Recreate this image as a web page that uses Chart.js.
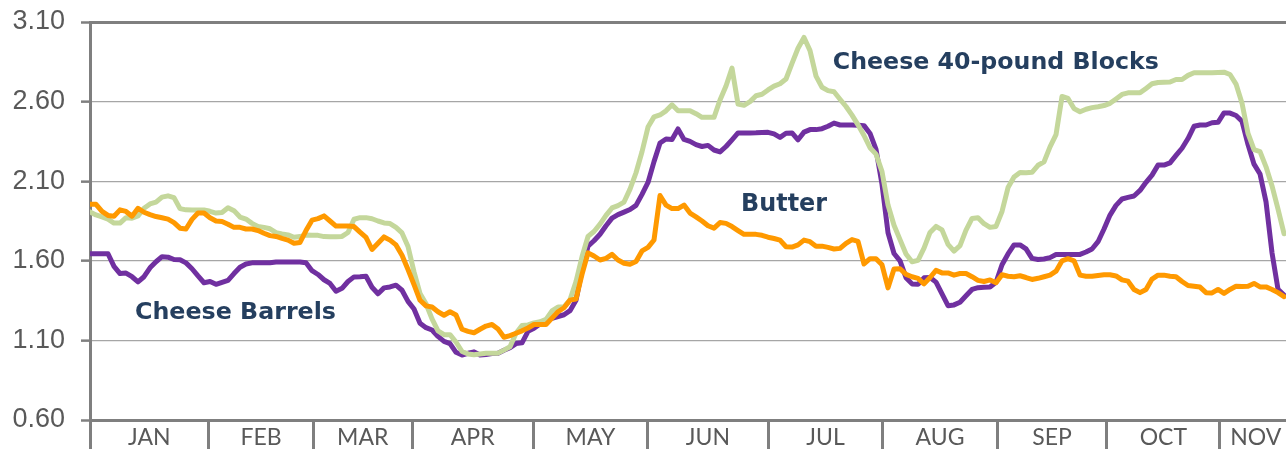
<!DOCTYPE html>
<html><head><meta charset="utf-8">
<script src="https://cdn.jsdelivr.net/npm/chart.js@4.4.1/dist/chart.umd.min.js"></script>
<style>html,body{margin:0;padding:0;background:#fff;overflow:hidden}</style>
</head><body>
<canvas id="c" width="1286" height="449"></canvas>
<script>
// ---- DATA (daily spot prices, $/lb) ----
const butter = [1.955,1.955,1.91,1.885,1.88,1.92,1.91,1.88,1.93,1.905,1.89,1.878,1.87,1.862,1.84,1.805,1.80,1.86,1.90,1.90,
1.87,1.85,1.847,1.83,1.81,1.81,1.80,1.80,1.79,1.773,1.758,1.753,1.741,1.73,1.71,1.715,1.79,1.855,1.865,1.882,
1.85,1.818,1.818,1.818,1.815,1.78,1.747,1.671,1.71,1.75,1.73,1.70,1.635,1.545,1.45,1.352,1.317,1.31,1.28,1.258,
1.28,1.26,1.17,1.157,1.148,1.17,1.19,1.20,1.171,1.12,1.13,1.145,1.16,1.178,1.20,1.20,1.20,1.24,1.28,1.305,
1.353,1.36,1.515,1.65,1.63,1.605,1.615,1.64,1.605,1.585,1.578,1.595,1.662,1.684,1.731,2.01,1.95,1.928,1.928,1.95,
1.90,1.876,1.85,1.82,1.805,1.84,1.835,1.815,1.79,1.766,1.766,1.766,1.76,1.748,1.74,1.73,1.688,1.686,1.70,1.73,
1.72,1.692,1.692,1.684,1.674,1.678,1.71,1.733,1.722,1.58,1.613,1.613,1.575,1.43,1.548,1.55,1.515,1.50,1.49,1.455,
1.495,1.54,1.524,1.524,1.51,1.52,1.52,1.50,1.477,1.47,1.48,1.462,1.513,1.503,1.50,1.506,1.495,1.483,1.49,1.50,
1.51,1.535,1.60,1.613,1.60,1.51,1.503,1.503,1.508,1.512,1.512,1.505,1.48,1.472,1.42,1.40,1.42,1.485,1.51,1.51,
1.503,1.50,1.47,1.445,1.44,1.435,1.40,1.398,1.42,1.395,1.42,1.44,1.438,1.44,1.458,1.436,1.436,1.42,1.40,1.375];

const blocks = [1.907,1.888,1.876,1.862,1.837,1.837,1.871,1.868,1.882,1.93,1.957,1.968,2.0,2.008,1.997,1.928,1.92,1.919,1.919,1.919,
1.911,1.90,1.904,1.933,1.915,1.875,1.862,1.835,1.816,1.81,1.801,1.777,1.769,1.763,1.748,1.752,1.762,1.76,1.76,1.752,
1.751,1.751,1.753,1.778,1.861,1.871,1.871,1.864,1.85,1.838,1.834,1.81,1.775,1.69,1.53,1.395,1.33,1.235,1.16,1.136,
1.136,1.09,1.03,1.015,1.01,1.015,1.019,1.02,1.02,1.039,1.06,1.145,1.194,1.197,1.21,1.217,1.232,1.285,1.31,1.31,
1.355,1.47,1.625,1.753,1.784,1.83,1.885,1.932,1.947,1.969,2.05,2.153,2.285,2.44,2.504,2.516,2.542,2.58,2.543,2.543,
2.542,2.524,2.501,2.501,2.501,2.61,2.698,2.81,2.584,2.577,2.60,2.637,2.646,2.673,2.697,2.712,2.742,2.84,2.935,3.003,
2.92,2.76,2.69,2.669,2.662,2.615,2.569,2.515,2.454,2.387,2.31,2.27,2.16,1.95,1.823,1.733,1.643,1.594,1.603,1.679,
1.778,1.816,1.794,1.703,1.661,1.695,1.793,1.866,1.871,1.833,1.81,1.816,1.91,2.06,2.126,2.154,2.153,2.156,2.20,2.221,
2.316,2.392,2.632,2.62,2.556,2.536,2.552,2.562,2.568,2.575,2.589,2.617,2.645,2.655,2.655,2.655,2.683,2.712,2.72,2.722,
2.723,2.739,2.739,2.765,2.781,2.781,2.781,2.781,2.783,2.785,2.77,2.71,2.59,2.40,2.298,2.286,2.19,2.07,1.924,1.77];

const barrels = [1.644,1.644,1.644,1.644,1.565,1.52,1.523,1.50,1.468,1.50,1.556,1.594,1.626,1.623,1.608,1.607,1.587,1.55,1.505,1.462,
1.47,1.452,1.465,1.477,1.52,1.56,1.58,1.587,1.587,1.587,1.588,1.592,1.592,1.592,1.592,1.592,1.588,1.538,1.514,1.481,
1.458,1.409,1.427,1.47,1.499,1.50,1.503,1.434,1.393,1.43,1.436,1.447,1.415,1.345,1.297,1.208,1.18,1.165,1.125,1.094,
1.08,1.025,1.008,1.019,1.028,1.008,1.011,1.017,1.02,1.038,1.054,1.08,1.085,1.157,1.176,1.203,1.224,1.239,1.25,1.261,
1.287,1.352,1.54,1.692,1.726,1.767,1.82,1.868,1.89,1.906,1.922,1.948,2.017,2.092,2.223,2.34,2.365,2.362,2.428,2.362,
2.35,2.33,2.318,2.325,2.296,2.284,2.318,2.36,2.403,2.403,2.403,2.404,2.406,2.407,2.397,2.375,2.401,2.403,2.36,2.408,
2.424,2.424,2.43,2.445,2.465,2.453,2.453,2.453,2.451,2.449,2.40,2.30,2.08,1.776,1.646,1.60,1.494,1.455,1.452,1.493,
1.495,1.466,1.392,1.318,1.323,1.34,1.38,1.42,1.431,1.434,1.436,1.465,1.575,1.643,1.70,1.70,1.675,1.615,1.608,1.611,
1.62,1.639,1.64,1.64,1.64,1.64,1.655,1.674,1.72,1.80,1.887,1.948,1.988,1.998,2.007,2.042,2.093,2.138,2.201,2.201,
2.215,2.262,2.307,2.368,2.445,2.453,2.453,2.467,2.47,2.529,2.528,2.513,2.476,2.33,2.207,2.145,1.97,1.65,1.42,1.385];

const yTickValues = [0.60, 1.10, 1.60, 2.10, 2.60, 3.10];
const monthNames = ['JAN','FEB','MAR','APR','MAY','JUN','JUL','AUG','SEP','OCT','NOV'];
const monthStarts = [0, 19.78, 37.22, 53.67, 73.88, 92.92, 113.05, 132.12, 151.22, 169.45, 188.33];
const monthLabelAt = [9.89, 28.5, 45.45, 63.78, 83.4, 102.99, 122.59, 141.67, 160.34, 178.89, 194.3];
const xMax = 199.33;

const seriesNames = ['Butter', 'Cheese 40-pound Blocks', 'Cheese Barrels'];
// annotation labels: text, day index of left edge, price at vertical centre, target width
const annText = ['Cheese 40-pound Blocks', 'Butter', 'Cheese Barrels'];
const annDay = [123.8, 108.5, 7.5];
const annPrice = [2.844, 1.95, 1.272];
const annWidth = [326, 86, 201];

// ---- CHART ----
const days = butter.map((_, i) => i);
const AXIS = '#7f7f7f';
const labelMap = new Map(monthLabelAt.map((v, i) => [v, monthNames[i]]));
const isStart = v => monthStarts.includes(v);

const annPlugin = {
  id: 'ann',
  afterDatasetsDraw(chart) {
    const c = chart.ctx, xs = chart.scales.x, ys = chart.scales.y;
    c.save();
    c.fillStyle = '#253f5f';
    c.textBaseline = 'middle';
    c.textAlign = 'left';
    annText.forEach((t, i) => {
      c.font = 'bold 100px "DejaVu Sans"';
      const w = c.measureText(t).width;
      const size = Math.min(26, 100 * annWidth[i] / w);
      c.font = 'bold ' + size.toFixed(2) + 'px "DejaVu Sans"';
      const sp = (annWidth[i] - c.measureText(t).width) / Math.max(1, t.length - 1);
      let x = xs.getPixelForValue(annDay[i]);
      const y = ys.getPixelForValue(annPrice[i]);
      for (const ch of t) { c.fillText(ch, x, y); x += c.measureText(ch).width + sp; }
    });
    c.restore();
  }
};

new Chart(document.getElementById('c'), {
  type: 'line',
  data: {
    labels: days,
    datasets: [
      { label: seriesNames[0], data: butter, borderColor: '#FF9900' },
      { label: seriesNames[1], data: blocks, borderColor: '#C4D79B' },
      { label: seriesNames[2], data: barrels, borderColor: '#7030A0' }
    ]
  },
  options: {
    responsive: false,
    devicePixelRatio: 1,
    animation: false,
    layout: { padding: { top: 22, right: 0, left: 0, bottom: 0 } },
    elements: {
      point: { radius: 0 },
      line: { borderWidth: 5, tension: 0, borderJoinStyle: 'round', borderCapStyle: 'round' }
    },
    plugins: { legend: { display: false }, tooltip: { enabled: false } },
    scales: {
      x: {
        type: 'linear', min: 0, max: xMax,
        afterBuildTicks(s) {
          const t = monthStarts.map(v => ({ value: v })).concat(monthLabelAt.map(v => ({ value: v })));
          t.sort((a, b) => a.value - b.value);
          s.ticks = t;
        },
        afterFit(s) { s.height = 29; s.paddingLeft = 0; s.paddingRight = 0; },
        border: { display: true, color: AXIS, width: 3 },
        grid: {
          drawOnChartArea: false, drawTicks: true, tickLength: 29, tickWidth: 3,
          tickColor: ctx => (ctx.tick && isStart(ctx.tick.value)) ? AXIS : 'rgba(0,0,0,0)'
        },
        ticks: {
          autoSkip: false, maxRotation: 0, padding: -25,
          color: '#595959', font: { family: 'Lato', size: 23 },
          callback: v => labelMap.get(v) || ''
        }
      },
      y: {
        min: 0.6, max: 3.1,
        afterBuildTicks(s) { s.ticks = yTickValues.map(v => ({ value: v })); },
        afterFit(s) { s.width = 90; s.paddingTop = 0; s.paddingBottom = 0; },
        border: { display: true, color: AXIS, width: 3 },
        grid: {
          color: ctx => (ctx.tick && (ctx.tick.value === 3.1 || ctx.tick.value === 0.6)) ? AXIS : '#a6a6a6',
          lineWidth: ctx => (ctx.tick && (ctx.tick.value === 3.1 || ctx.tick.value === 0.6)) ? 3 : 1.3,
          drawTicks: true, tickLength: 9, tickWidth: 2.5, tickColor: AXIS
        },
        ticks: {
          padding: 16, color: '#595959',
          font: { family: '"Liberation Sans"', size: 27 },
          callback: v => Number(v).toFixed(2)
        }
      }
    }
  },
  plugins: [annPlugin]
});
</script>
</body></html>
